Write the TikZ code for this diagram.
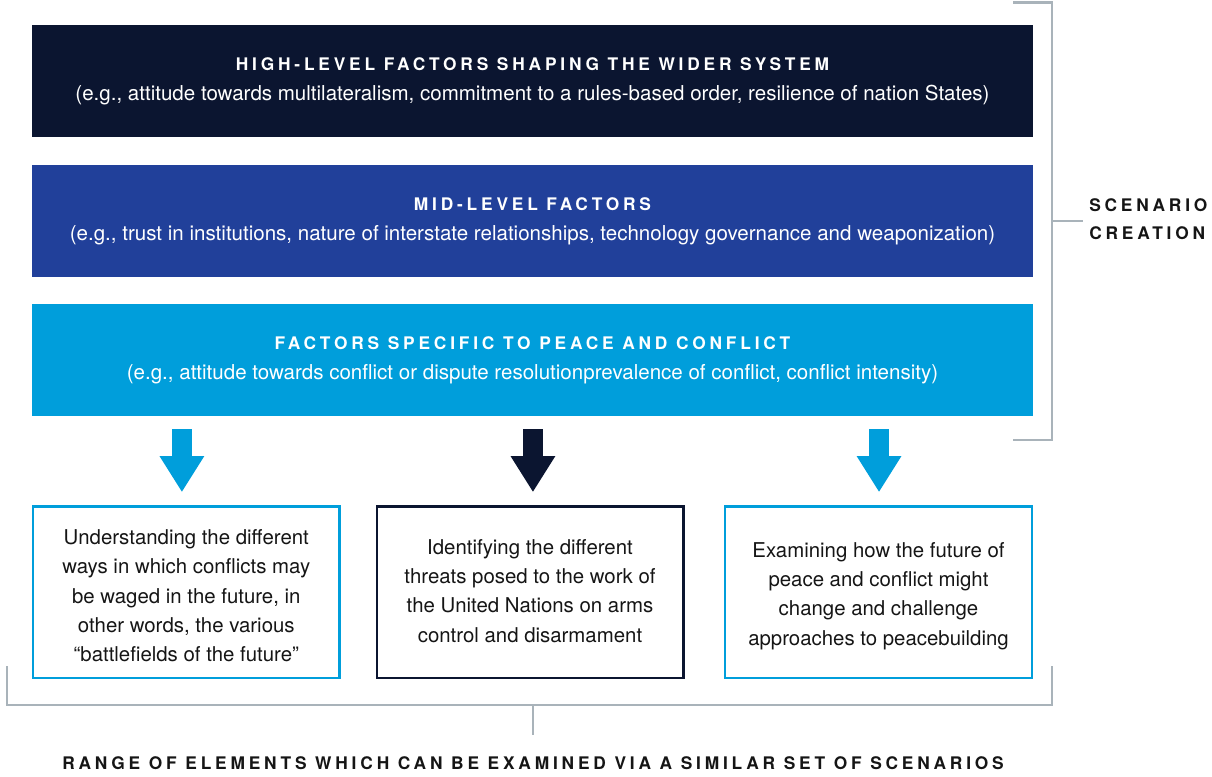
\documentclass[tikz,border=0pt]{standalone}
\usepackage{fontspec}
\setmainfont{TeX Gyre Heros}
\newfontfamily\capsfont[LetterSpace=22]{TeX Gyre Heros}
\usetikzlibrary{arrows.meta,calc}
\definecolor{navy}{HTML}{0B1530}
\definecolor{midblue}{HTML}{21409A}
\definecolor{lblue}{HTML}{009EDB}
\definecolor{brgray}{HTML}{A9B3BA}
\definecolor{ink}{HTML}{151515}
\newcommand{\hdfont}{\capsfont\bfseries\fontsize{13}{22.5}\selectfont}
\begin{document}
\begin{tikzpicture}[x=0.75pt,y=-0.75pt,
  bar/.style={minimum width=750.75pt, minimum height=84pt, inner sep=0pt, text=white, align=center,
    font=\fontsize{15.4}{22.5}\selectfont},
  ebox/.style={draw=#1, line width=1.75pt, minimum width=230pt, minimum height=128.8pt, inner sep=0pt,
    align=center, text=ink, font=\fontsize{15.3}{22}\selectfont},
  bigarrow/.style={draw=#1, line width=15.4pt, -{Triangle[length=27pt,width=31.5pt]},
    shorten <=9.75pt, shorten >=9.75pt},
  bracket/.style={draw=brgray, line width=2.2pt},
  caps/.style={text=ink, font=\hdfont, inner sep=0pt}
]
\useasboundingbox (0,0) rectangle (1212,776);

\node[bar, fill=navy] (high) at (532.5,81) {{\hdfont HIGH-LEVEL FACTORS SHAPING THE WIDER SYSTEM}\\(e.g., attitude towards multilateralism, commitment to a rules-based order, resilience of nation States)};
\node[bar, fill=midblue] (mid) at (532.5,221) {{\hdfont MID-LEVEL FACTORS}\\(e.g., trust in institutions, nature of interstate relationships, technology governance and weaponization)};
\node[bar, fill=lblue] (peace) at (532.5,360) {{\hdfont FACTORS SPECIFIC TO PEACE AND CONFLICT}\\(e.g., attitude towards conflict or dispute resolutionprevalence of conflict, conflict intensity)};

\node[ebox=lblue] (b1) at (186.3,592.2) {\rule{0pt}{22.9pt}Understanding the different\\ways in which conflicts may\\be waged in the future, in\\other words, the various\\``battlefields of the future''\strut};
\node[ebox=navy] (b2) at (530,592.2) {\strut Identifying the different\\threats posed to the work of\\the United Nations on arms\\control and disarmament\strut};
\node[ebox=lblue] (b3) at (878.5,592.2) {\rule{0pt}{19.9pt}Examining how the future of\\peace and conflict might\\change and challenge\\approaches to peacebuilding\strut};

\draw[bigarrow=lblue] ([xshift=-3.3pt]b1.north |- peace.south) -- ([xshift=-3.3pt]b1.north);
\draw[bigarrow=navy] ([xshift=2.2pt]b2.north |- peace.south) -- ([xshift=2.2pt]b2.north);
\draw[bigarrow=lblue] ([xshift=0.4pt]b3.north |- peace.south) -- ([xshift=0.4pt]b3.north);

% right bracket
\coordinate (rt) at (1013,2.5);
\coordinate (rb) at (1013,440);
\coordinate (rm) at (1052,221);
\draw[bracket] (rt) -| (1052,440) -- (rb);
\node[caps, anchor=west, align=left, font=\hdfont\fontsize{13}{21}\selectfont] (sc) at (1089,219) {SCENARIO\\CREATION};
\draw[bracket] (rm) -- (1083,221);

% bottom bracket
\coordinate (bl) at (7,666);
\coordinate (br) at (1052,666);
\coordinate (bm) at (533,705);
\draw[bracket] (bl) |- (br |- bm) -- (br);
\node[caps] (range) at (533,763) {RANGE OF ELEMENTS WHICH CAN BE EXAMINED VIA A SIMILAR SET OF SCENARIOS};
\draw[bracket] (bm) -- (533,735);
\end{tikzpicture}
\end{document}
